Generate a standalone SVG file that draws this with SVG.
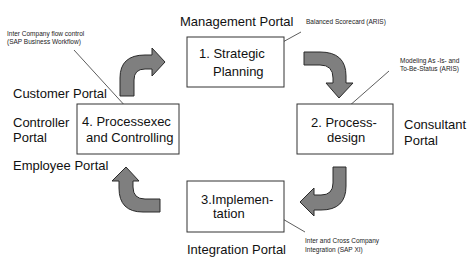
<svg xmlns="http://www.w3.org/2000/svg" width="472" height="271" viewBox="0 0 472 271">
<style>
.box{fill:#fff;stroke:#333;stroke-width:1}
.arr{fill:#7f7f7f;stroke:#2a2a2a;stroke-width:1;stroke-linejoin:round}
.t{font-family:"Liberation Sans",Arial,sans-serif;font-size:13px;fill:#111}
.s{font-family:"Liberation Sans",Arial,sans-serif;font-size:6.5px;fill:#222}
.ln{stroke:#333;stroke-width:0.8;fill:none}
</style>
<rect width="472" height="271" fill="#fff"/>
<g id="connectors">
<path class="arr" d="M120,96 L120,78 Q120,55 145,55 L152,55 L152,48 L165,62 L152,76 L152,69 L145,69 Q134,69 134,80 L134,96 Z"/>
<path class="arr" d="M304,52 L320,52 Q346,52 346,76 L346,83 L353,83 L339,98 L326,83 L333,83 L333,78 Q333,65 320,65 L304,65 Z"/>
<path class="arr" d="M333,167 L346,167 L346,186 Q346,210 321,210 L314,210 L314,216 L300,202 L314,188 L314,195 L321,195 Q333,195 333,183 Z"/>
<path class="arr" d="M160,199 L145,199 Q133,199 133,187 L133,181 L139,181 L126,167 L112,181 L119,181 L119,188 Q119,212 143,212 L160,212 Z"/>
<line class="ln" x1="74" y1="50" x2="127" y2="108"/>
<line class="ln" x1="301" y1="32" x2="281" y2="43"/>
<line class="ln" x1="389" y1="71" x2="348" y2="107"/>
<line class="ln" x1="281" y1="218" x2="305" y2="232"/>
</g>
<g id="node1">
<rect class="box" x="187" y="37" width="97" height="50"/>
<text class="t" x="199" y="58">1. Strategic</text>
<text class="t" x="213" y="76">Planning</text>
</g>
<g id="node2">
<rect class="box" x="297" y="104" width="96" height="50"/>
<text class="t" x="311" y="127">2. Process-</text>
<text class="t" x="327" y="142">design</text>
</g>
<g id="node3">
<rect class="box" x="187" y="181" width="97" height="51"/>
<text class="t" x="201" y="204">3.Implemen-</text>
<text class="t" x="213" y="218">tation</text>
</g>
<g id="node4">
<rect class="box" x="77" y="104" width="102" height="50"/>
<text class="t" x="82" y="126">4. Processexec</text>
<text class="t" x="86" y="142">and Controlling</text>
</g>
<g id="labels">
<text class="t" x="180" y="26">Management Portal</text>
<text class="t" x="13" y="98">Customer Portal</text>
<text class="t" x="13" y="127">Controller</text>
<text class="t" x="13" y="142">Portal</text>
<text class="t" x="13" y="170">Employee Portal</text>
<text class="t" x="404" y="129">Consultant</text>
<text class="t" x="404" y="145">Portal</text>
<text class="t" x="187" y="254">Integration Portal</text>
<text class="s" x="306" y="24">Balanced Scorecard (ARIS)</text>
<text class="s" x="400" y="63">Modeling As -Is- and</text>
<text class="s" x="400" y="71">To-Be-Status (ARIS)</text>
<text class="s" x="7" y="36">Inter Company flow control</text>
<text class="s" x="7" y="44">(SAP Business Workflow)</text>
<text class="s" x="305" y="243">Inter and Cross Company</text>
<text class="s" x="305" y="252">Integration (SAP XI)</text>
</g>
</svg>
